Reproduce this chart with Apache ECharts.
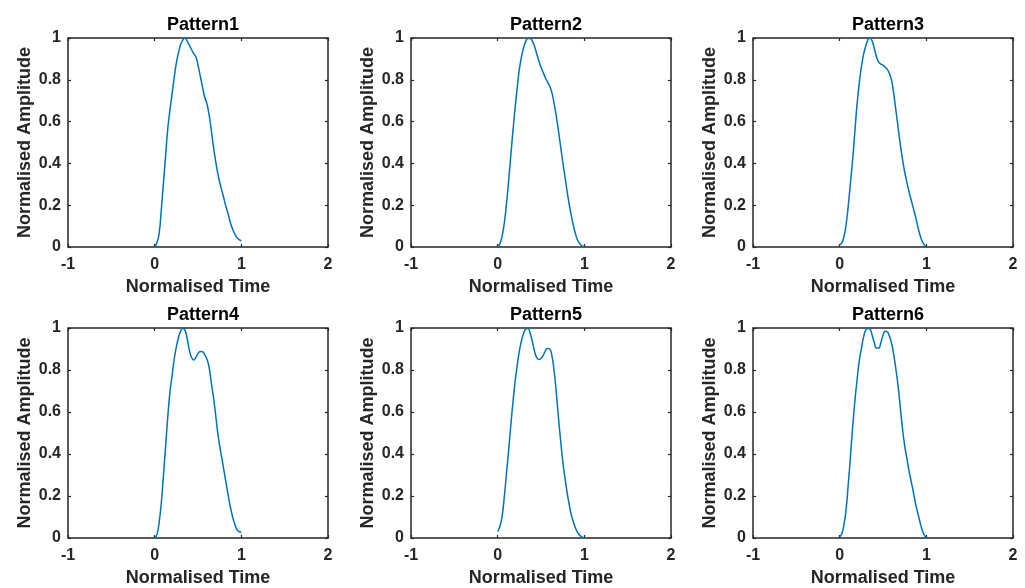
<!DOCTYPE html>
<html>
<head>
<meta charset="utf-8">
<script src="https://cdn.jsdelivr.net/npm/echarts@6/dist/echarts.min.js"></script>
<style>
  html, body { margin: 0; padding: 0; background: #ffffff; }
  #chart { width: 1025px; height: 588px; }
</style>
</head>
<body>
<div id="chart"></div>
<script>
// Normalised time samples shared by every pattern (step 0.025)
const timeSamples = [0, 0.025, 0.05, 0.075, 0.1, 0.125, 0.15, 0.175, 0.2, 0.225,
                     0.25, 0.275, 0.3, 0.325, 0.35, 0.375, 0.4, 0.425, 0.45, 0.475,
                     0.5, 0.525, 0.55, 0.575, 0.6, 0.625, 0.65, 0.675, 0.7, 0.725,
                     0.75, 0.775, 0.8, 0.825, 0.85, 0.875, 0.9, 0.925, 0.95, 0.975, 1.0];

// Normalised amplitude of each pattern at the samples above
const pattern1 = [0, 0.02, 0.06, 0.17, 0.30, 0.43, 0.56, 0.65, 0.73, 0.81,
                  0.88, 0.93, 0.97, 0.99, 1.0, 0.985, 0.965, 0.945, 0.925, 0.91,
                  0.87, 0.82, 0.77, 0.72, 0.69, 0.64, 0.57, 0.49, 0.42, 0.36,
                  0.31, 0.27, 0.23, 0.19, 0.155, 0.115, 0.085, 0.062, 0.045, 0.035, 0.03];
const pattern2 = [0, 0.015, 0.05, 0.11, 0.2, 0.31, 0.43, 0.55, 0.66, 0.76,
                  0.85, 0.91, 0.955, 0.985, 0.998, 0.998, 0.985, 0.96, 0.925, 0.89,
                  0.86, 0.835, 0.81, 0.79, 0.77, 0.74, 0.69, 0.63, 0.56, 0.485,
                  0.41, 0.34, 0.27, 0.205, 0.15, 0.1, 0.06, 0.03, 0.015, 0.005, 0];
const pattern3 = [0.01, 0.02, 0.05, 0.11, 0.2, 0.31, 0.42, 0.55, 0.68, 0.78,
                  0.86, 0.92, 0.96, 0.99, 1.0, 0.985, 0.95, 0.91, 0.885, 0.875,
                  0.87, 0.86, 0.85, 0.83, 0.795, 0.73, 0.65, 0.57, 0.49, 0.42,
                  0.36, 0.31, 0.265, 0.225, 0.185, 0.145, 0.1, 0.06, 0.03, 0.01, 0];
const pattern4 = [0, 0.015, 0.07, 0.16, 0.29, 0.43, 0.57, 0.69, 0.77, 0.85,
                  0.91, 0.955, 0.985, 0.998, 0.99, 0.95, 0.895, 0.86, 0.848, 0.86,
                  0.878, 0.888, 0.887, 0.875, 0.855, 0.82, 0.75, 0.68, 0.6, 0.51,
                  0.44, 0.38, 0.32, 0.26, 0.2, 0.145, 0.1, 0.065, 0.04, 0.03, 0.027];
const pattern5 = [0.03, 0.055, 0.1, 0.19, 0.3, 0.41, 0.53, 0.64, 0.74, 0.82,
                  0.89, 0.94, 0.975, 0.995, 0.998, 0.975, 0.935, 0.89, 0.86, 0.85,
                  0.855, 0.87, 0.89, 0.902, 0.9, 0.87, 0.8, 0.7, 0.58, 0.47,
                  0.37, 0.29, 0.22, 0.16, 0.11, 0.075, 0.045, 0.025, 0.012, 0.004, 0];
const pattern6 = [0.005, 0.02, 0.065, 0.14, 0.26, 0.39, 0.53, 0.65, 0.75, 0.84,
                  0.9, 0.955, 0.99, 0.998, 0.995, 0.965, 0.93, 0.905, 0.905, 0.93,
                  0.965, 0.985, 0.982, 0.96, 0.925, 0.87, 0.8, 0.72, 0.62, 0.52,
                  0.44, 0.38, 0.32, 0.27, 0.22, 0.165, 0.12, 0.08, 0.04, 0.015, 0];

const titles = ['Pattern1', 'Pattern2', 'Pattern3', 'Pattern4', 'Pattern5', 'Pattern6'];
const patterns = [pattern1, pattern2, pattern3, pattern4, pattern5, pattern6];

const xTitle = 'Normalised Time';
const yTitle = 'Normalised Amplitude';

// Panel placement (pixels)
const colLeft = [68, 411, 753];
const rowTop = [38, 328];
const panelW = 260;
const panelH = [209, 210];

const ink = '#262626';
const font = '"Liberation Sans", Arial, Helvetica, sans-serif';

const grid = [], xAxis = [], yAxis = [], series = [], title = [];

const tickStyle = { show: true, inside: true, length: 3, lineStyle: { color: ink, width: 1.2 } };
const hiddenLine = { show: false, onZero: false };

patterns.forEach((vals, i) => {
  const r = Math.floor(i / 3), c = i % 3;
  grid.push({
    left: colLeft[c], top: rowTop[r], width: panelW, height: panelH[r],
    show: true, borderColor: ink, borderWidth: 1.5, backgroundColor: 'transparent'
  });
  title.push({
    text: titles[i],
    left: colLeft[c] + panelW / 2,
    top: rowTop[r] - 27,
    textAlign: 'center',
    textStyle: { fontFamily: font, fontWeight: 'bold', fontSize: 18, color: '#000' }
  });
  // bottom / left axes carry the labels
  xAxis.push({
    type: 'value', gridIndex: i, min: -1, max: 2, interval: 1, position: 'bottom',
    name: xTitle, nameLocation: 'middle', nameGap: 31,
    nameTextStyle: { fontFamily: font, fontWeight: 'bold', fontSize: 18, color: ink },
    axisLine: hiddenLine, axisTick: tickStyle, splitLine: { show: false },
    axisLabel: { margin: 10, fontFamily: font, fontWeight: 'bold', fontSize: 16, color: ink }
  });
  yAxis.push({
    type: 'value', gridIndex: i, min: 0, max: 1, interval: 0.2, position: 'left',
    name: yTitle, nameLocation: 'middle', nameGap: 34,
    nameTextStyle: { fontFamily: font, fontWeight: 'bold', fontSize: 18, color: ink },
    axisLine: hiddenLine, axisTick: tickStyle, splitLine: { show: false },
    axisLabel: { margin: 7, fontFamily: font, fontWeight: 'bold', fontSize: 16, color: ink }
  });
  series.push({
    type: 'line', xAxisIndex: i, yAxisIndex: i, smooth: true, showSymbol: false,
    lineStyle: { color: '#0072BD', width: 1.5 },
    data: timeSamples.map((t, k) => [t, vals[k]])
  });
});

// top / right axes only add the inward box ticks
patterns.forEach((vals, i) => {
  xAxis.push({
    type: 'value', gridIndex: i, min: -1, max: 2, interval: 1, position: 'top',
    axisLine: hiddenLine, axisTick: tickStyle, axisLabel: { show: false },
    splitLine: { show: false }
  });
  yAxis.push({
    type: 'value', gridIndex: i, min: 0, max: 1, interval: 0.2, position: 'right',
    axisLine: hiddenLine, axisTick: tickStyle, axisLabel: { show: false },
    splitLine: { show: false }
  });
});

const chart = echarts.init(document.getElementById('chart'), null, { renderer: 'canvas' });
chart.setOption({
  animation: false,
  backgroundColor: '#ffffff',
  title, grid, xAxis, yAxis, series
});
</script>
</body>
</html>
